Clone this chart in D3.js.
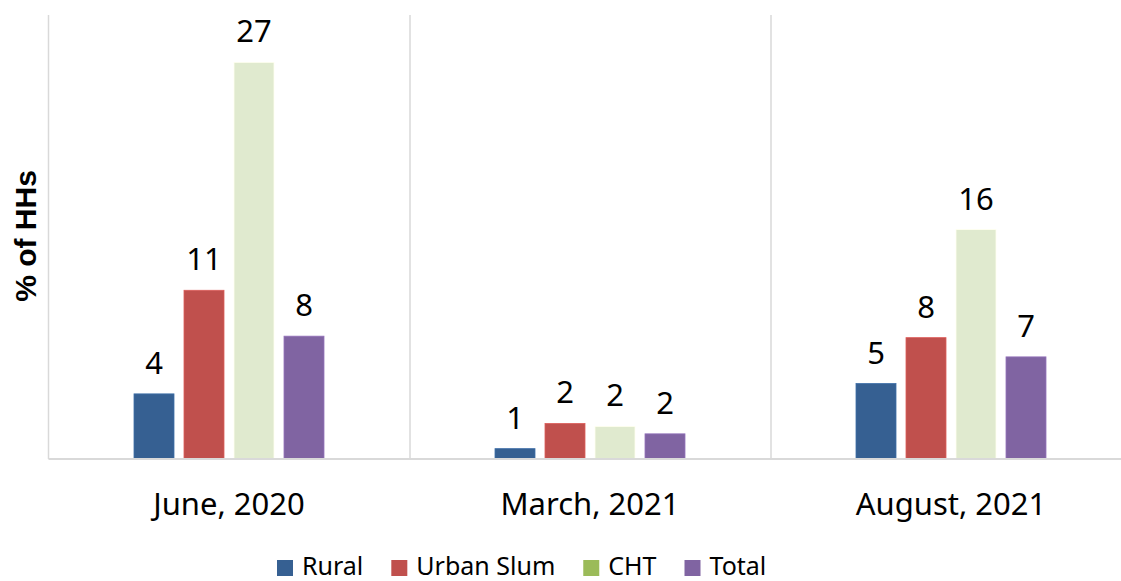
<!DOCTYPE html>
<html>
<head>
<meta charset="utf-8">
<script src="https://cdn.jsdelivr.net/npm/d3@7"></script>
<style>
  body { margin: 0; background: #fff; }
  svg { display: block; font-family: "Noto Sans", sans-serif; }
</style>
</head>
<body>
<svg id="chart" width="1121" height="581"></svg>
<script>
const periods = ["June, 2020", "March, 2021", "August, 2021"];
const seriesNames = ["Rural", "Urban Slum", "CHT", "Total"];
const rural = [4.4, 0.7, 5.1];
const urbanSlum = [11.4, 2.4, 8.2];
const cht = [26.8, 2.2, 15.5];
const total = [8.3, 1.7, 6.9];
const barColors = ["#366092", "#c0504d", "#e0eacf", "#8064a2"];
const legendColors = ["#366092", "#c0504d", "#9bbb59", "#8064a2"];

const series = [rural, urbanSlum, cht, total];
const svg = d3.select("#chart");

const plotLeft = 48.5, plotRight = 1131.5, plotTop = 15, plotBottom = 459;

const x0 = d3.scaleBand().domain(periods).range([plotLeft, plotRight]);
const x1 = d3.scaleBand().domain(seriesNames).range([0, 190]).paddingInner(0.2);
const y = d3.scaleLinear().domain([0, 30]).range([plotBottom, plotTop]);

// vertical separators
svg.append("g").selectAll("line")
  .data(periods.slice(1))
  .join("line")
  .attr("x1", d => x0(d) + 0.5).attr("x2", d => x0(d) + 0.5)
  .attr("y1", plotTop).attr("y2", plotBottom)
  .attr("stroke", "#d9d9d9").attr("stroke-width", 1.5);

svg.append("line")
  .attr("x1", plotLeft).attr("x2", plotLeft)
  .attr("y1", plotTop).attr("y2", plotBottom)
  .attr("stroke", "#d9d9d9").attr("stroke-width", 1.5);

const groups = svg.append("g").selectAll("g")
  .data(periods)
  .join("g")
  .attr("transform", d => `translate(${x0(d) + (x0.bandwidth() - 190) / 2},0)`);

groups.selectAll("rect")
  .data((d, i) => seriesNames.map((s, j) => ({ s, j, v: series[j][i] })))
  .join("rect")
  .attr("x", d => x1(d.s))
  .attr("width", x1.bandwidth())
  .attr("y", d => y(d.v))
  .attr("height", d => plotBottom - y(d.v))
  .attr("fill", d => barColors[d.j])
  .attr("stroke", d => d3.color(barColors[d.j]).brighter(0.4))
  .attr("stroke-width", 0.8);

groups.selectAll("text")
  .data((d, i) => seriesNames.map((s, j) => ({ s, j, v: series[j][i] })))
  .join("text")
  .attr("x", d => x1(d.s) + x1.bandwidth() / 2)
  .attr("y", d => y(d.v) - 20)
  .attr("text-anchor", "middle")
  .attr("font-size", 31)
  .attr("fill", "#000")
  .text(d => Math.round(d.v));

// baseline
svg.append("line")
  .attr("x1", plotLeft).attr("x2", 1121)
  .attr("y1", plotBottom).attr("y2", plotBottom)
  .attr("stroke", "#d9d9d9").attr("stroke-width", 2);

// category labels
svg.append("g").selectAll("text")
  .data(periods)
  .join("text")
  .attr("x", d => x0(d) + x0.bandwidth() / 2)
  .attr("y", 515)
  .attr("text-anchor", "middle")
  .attr("font-size", 31)
  .text(d => d);

svg.append("text")
  .attr("transform", "translate(36,236) rotate(-90)")
  .attr("text-anchor", "middle")
  .attr("font-family", "Liberation Sans, Arial, sans-serif")
  .attr("font-weight", "bold")
  .attr("font-size", 30)
  .text("% of HHs");

// legend
const legend = svg.append("g");
let lx = 277;
seriesNames.forEach((name, i) => {
  legend.append("rect")
    .attr("x", lx).attr("y", 560)
    .attr("width", 16).attr("height", 16)
    .attr("fill", legendColors[i]);
  const t = legend.append("text")
    .attr("x", lx + 25).attr("y", 575)
    .attr("font-size", 25)
    .text(name);
  lx += 25 + t.node().getComputedTextLength() + 28;
});
</script>
</body>
</html>
